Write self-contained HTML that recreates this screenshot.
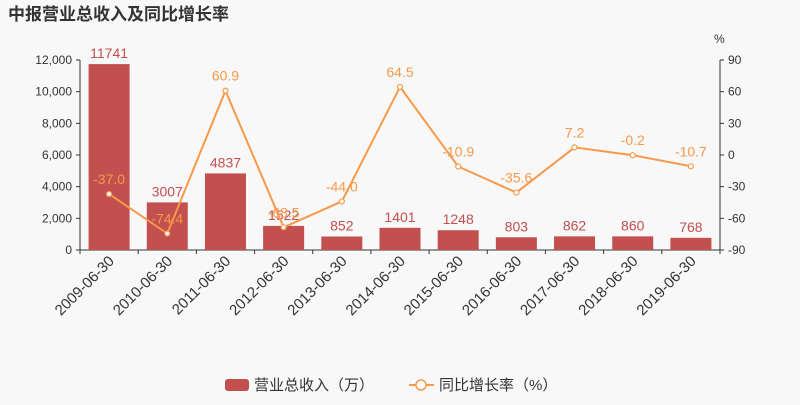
<!DOCTYPE html>
<html><head><meta charset="utf-8"><style>
body{margin:0;background:#f8f8f8;}
svg{font-family:"Liberation Sans","Noto Sans CJK SC",sans-serif;}
</style></head><body>
<svg id="c" width="800" height="400">
<rect width="800" height="400" fill="#f8f8f8"/>
<text x="8" y="20" font-size="17" font-weight="bold" fill="#333">中报营业总收入及同比增长率</text>
<text x="714" y="43" font-size="12" fill="#333">%</text>
<g id="g"></g>
<g>
<rect x="225" y="379" width="24" height="12" rx="3" fill="#c1504f"/>
<text x="254" y="390" font-size="15" fill="#333">营业总收入（万）</text>
<line x1="409" y1="385" x2="434" y2="385" stroke="#f7994a" stroke-width="2"/>
<circle cx="421" cy="385" r="5" fill="#fff" stroke="#f7994a" stroke-width="1.5"/>
<text x="439" y="390" font-size="15" fill="#333">同比增长率（%）</text>
</g>
</svg>
<script>
const categories=["2009-06-30","2010-06-30","2011-06-30","2012-06-30","2013-06-30","2014-06-30","2015-06-30","2016-06-30","2017-06-30","2018-06-30","2019-06-30"];
const revenue=[11741,3007,4837,1522,852,1401,1248,803,862,860,768];
const growth=[-37.0,-74.4,60.9,-68.5,-44.0,64.5,-10.9,-35.6,7.2,-0.2,-10.7];
const leftTicks=[0,2000,4000,6000,8000,10000,12000];
const rightTicks=[-90,-60,-30,0,30,60,90];
const NS="http://www.w3.org/2000/svg",g=document.getElementById('g');
const L=80,R=720,T=60,B=250;
const yL=v=>B-(v/12000)*(B-T);
const yR=v=>B-((v+90)/180)*(B-T);
const bw=(R-L)/categories.length;
const xC=i=>L+bw*(i+0.5);
function el(t,a,txt){const e=document.createElementNS(NS,t);for(const k in a)e.setAttribute(k,a[k]);if(txt!=null)e.textContent=txt;g.appendChild(e);return e;}
leftTicks.forEach(v=>{
 const e=el('text',{x:L-8,y:yL(v)+4,'text-anchor':'end','font-size':12,fill:'#333'},v.toLocaleString('en-US'));
 
 
});
rightTicks.forEach(v=>{
 const e=el('text',{x:R+8,y:yR(v)+4,'font-size':12,fill:'#333'},v);
 
 
});
el('line',{x1:L,y1:T,x2:L,y2:B,stroke:'#333'});
el('line',{x1:R,y1:T,x2:R,y2:B,stroke:'#333'});
el('line',{x1:L,y1:B,x2:R,y2:B,stroke:'#333'});
leftTicks.forEach(v=>el('line',{x1:L-4,y1:yL(v),x2:L,y2:yL(v),stroke:'#333'}));
rightTicks.forEach(v=>el('line',{x1:R,y1:yR(v),x2:R+4,y2:yR(v),stroke:'#333'}));
categories.forEach((c,i)=>{
 el('line',{x1:L+bw*i,y1:B,x2:L+bw*i,y2:B+4,stroke:'#333'});
 const b=el('rect',{x:xC(i)-20.5,y:yL(revenue[i]),width:41,height:B-yL(revenue[i]),fill:'#c1504f'});
 
 
 const t=el('text',{x:xC(i),y:yL(revenue[i])-6,'text-anchor':'middle','font-size':14,fill:'#c1504f'},revenue[i]);
 
 
 const xl=el('text',{x:xC(i)+6,y:B+12,'text-anchor':'end','font-size':15,fill:'#333',transform:`rotate(-45 ${xC(i)+6} ${B+12})`},c);
 
 
});
el('line',{x1:R,y1:B,x2:R,y2:B+4,stroke:'#333'});
const ln=el('polyline',{points:growth.map((v,i)=>xC(i)+','+yR(v)).join(' '),fill:'none',stroke:'#f7994a','stroke-width':2});


growth.forEach((v,i)=>{
 const p=el('circle',{cx:xC(i),cy:yR(v),r:2.5,fill:'#fff',stroke:'#f7994a','stroke-width':1.2});
 
 
 const t=el('text',{x:xC(i),y:yR(v)-10,'text-anchor':'middle','font-size':14,fill:'#f7994a'},v.toFixed(1));
 
 
});
</script>
</body></html>
